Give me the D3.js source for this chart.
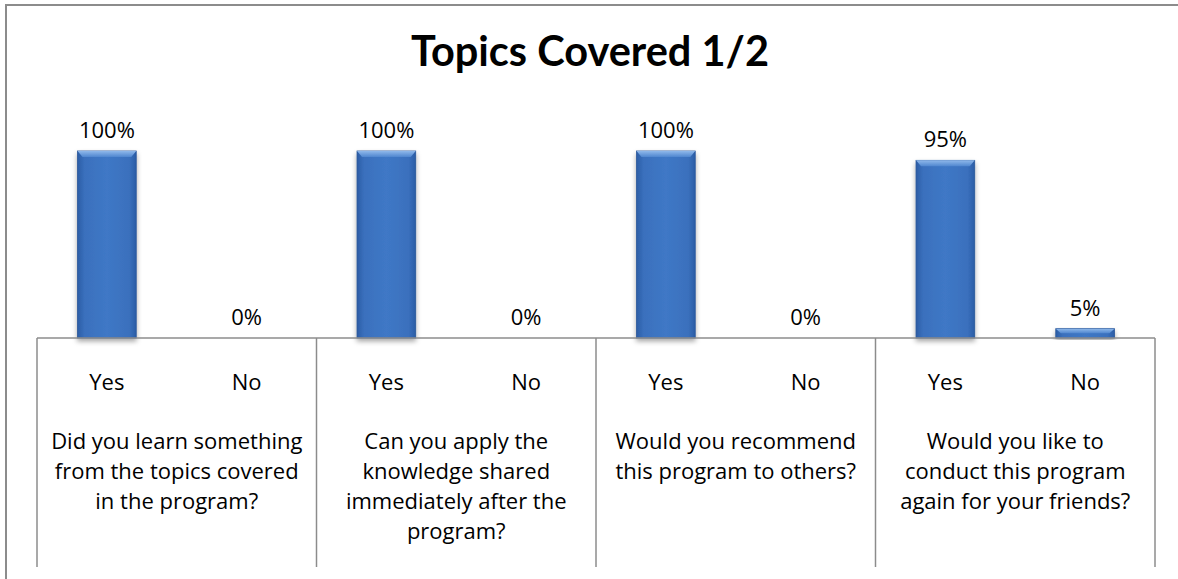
<!DOCTYPE html>
<html>
<head>
<meta charset="utf-8">
<script src="https://cdn.jsdelivr.net/npm/d3@7"></script>
<style>
  html, body { margin: 0; padding: 0; background: #fff; }
  svg { display: block; }
</style>
</head>
<body>
<svg id="chart" width="1178" height="579"></svg>
<script>
const title = "Topics Covered 1/2";
const questions = [
  ["Did you learn something", "from the topics covered", "in the program?"],
  ["Can you apply the", "knowledge shared", "immediately after the", "program?"],
  ["Would you recommend", "this program to others?"],
  ["Would you like to", "conduct this program", "again for your friends?"]
];
const answers = ["Yes", "No"];
const yesValues = [100, 100, 100, 95];
const noValues = [0, 0, 0, 5];

const data = questions.map((q, i) => ({
  q: i,
  lines: q,
  values: [{ a: "Yes", v: yesValues[i] }, { a: "No", v: noValues[i] }]
}));

const svg = d3.select("#chart");
const W = 1178, H = 579;
const left = 37, right = 1155, base = 338, axisBottom = 567;
const font = "'Open Sans', Lato, sans-serif";
const fs = 22;

// frame
svg.append("path")
  .attr("d", `M6,${H} V5 H${W}`)
  .attr("fill", "none").attr("stroke", "#8c8c8c").attr("stroke-width", 2);

// title
svg.append("text")
  .attr("x", 590).attr("y", 66)
  .attr("text-anchor", "middle")
  .attr("font-family", "Lato, 'Open Sans', sans-serif").attr("font-weight", 700)
  .attr("font-size", 41.5).attr("fill", "#000")
  .text(title);

const x0 = d3.scaleBand().domain(d3.range(questions.length)).range([left, right]).padding(0);
const x1 = d3.scaleBand().domain(answers).range([0, x0.bandwidth()]).paddingInner(0.58).paddingOuter(0.29);
const y = d3.scaleLinear().domain([0, 100]).range([base, 151]);

// defs: gradients and shadow
const defs = svg.append("defs");
const g1 = defs.append("linearGradient").attr("id", "barGrad").attr("x1", 0).attr("x2", 1).attr("y1", 0).attr("y2", 0);
g1.append("stop").attr("offset", "0%").attr("stop-color", "#2b5da6");
g1.append("stop").attr("offset", "12%").attr("stop-color", "#3a70bd");
g1.append("stop").attr("offset", "50%").attr("stop-color", "#3f78c6");
g1.append("stop").attr("offset", "88%").attr("stop-color", "#3a70bd");
g1.append("stop").attr("offset", "100%").attr("stop-color", "#2b5da6");
const g2 = defs.append("linearGradient").attr("id", "topGrad").attr("x1", 0).attr("x2", 0).attr("y1", 0).attr("y2", 1);
g2.append("stop").attr("offset", "0%").attr("stop-color", "#8fb8ea");
g2.append("stop").attr("offset", "100%").attr("stop-color", "#4f86cf");
const flt = defs.append("filter").attr("id", "shadow").attr("x", "-30%").attr("y", "-10%").attr("width", "160%").attr("height", "130%");
flt.append("feDropShadow").attr("dx", 0).attr("dy", 3).attr("stdDeviation", 2.5).attr("flood-color", "#000").attr("flood-opacity", 0.35);

const groups = svg.append("g").selectAll("g").data(data).join("g")
  .attr("transform", d => `translate(${x0(d.q)},0)`);

const bars = groups.selectAll("g.bar").data(d => d.values.filter(v => v.v > 0)).join("g").attr("class", "bar");
bars.append("rect")
  .attr("x", d => x1(d.a)).attr("width", x1.bandwidth())
  .attr("y", d => y(d.v)).attr("height", d => base - y(d.v))
  .attr("fill", "url(#barGrad)")
  .attr("stroke", "#2a5699").attr("stroke-width", 0.8)
  .attr("filter", "url(#shadow)");
bars.append("path")
  .attr("d", d => {
    const xa = x1(d.a), w = x1.bandwidth(), t = y(d.v);
    const b = Math.min(6, (base - t) / 2);
    return `M${xa},${t} H${xa + w} L${xa + w - 5},${t + b} H${xa + 5} Z`;
  })
  .attr("fill", "url(#topGrad)");

// value labels
groups.selectAll("text.val").data(d => d.values).join("text").attr("class", "val")
  .attr("x", d => x1(d.a) + x1.bandwidth() / 2)
  .attr("y", d => y(d.v) - 13)
  .attr("text-anchor", "middle")
  .attr("font-family", font).attr("font-size", fs).attr("fill", "#000")
  .text(d => d.v + "%");

// axis line and dividers
svg.append("line").attr("x1", left).attr("x2", right).attr("y1", base).attr("y2", base)
  .attr("stroke", "#8c8c8c").attr("stroke-width", 1.5);
const edges = d3.range(questions.length).map(i => x0(i)).concat([right]);
svg.append("g").selectAll("line").data(edges).join("line")
  .attr("x1", d => d).attr("x2", d => d).attr("y1", base).attr("y2", axisBottom)
  .attr("stroke", "#8c8c8c").attr("stroke-width", 1.5);

// answer labels
groups.selectAll("text.ans").data(answers).join("text").attr("class", "ans")
  .attr("x", a => x1(a) + x1.bandwidth() / 2)
  .attr("y", 390)
  .attr("text-anchor", "middle")
  .attr("font-family", font).attr("font-size", fs).attr("fill", "#000")
  .text(a => a);

// question labels
groups.each(function(d) {
  const t = d3.select(this).append("text")
    .attr("text-anchor", "middle")
    .attr("font-family", font).attr("font-size", fs).attr("fill", "#000");
  d.lines.forEach((ln, i) => {
    t.append("tspan").attr("x", x0.bandwidth() / 2).attr("y", 449 + i * 30).text(ln);
  });
});
</script>
</body>
</html>
